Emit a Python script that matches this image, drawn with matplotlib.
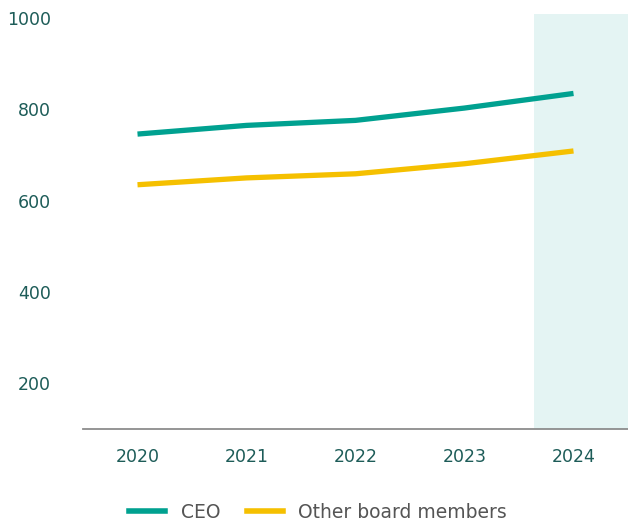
import matplotlib
matplotlib.use("Agg")
import matplotlib.pyplot as plt
from matplotlib.lines import Line2D

years = [2020, 2021, 2022, 2023, 2024]
ceo = [746, 765, 776, 803, 835]
other = [635, 650, 659, 681, 709]
yticks = [200, 400, 600, 800, 1000]
series_names = ["CEO", "Other board members"]

plt.rcParams['font.family'] = ['DejaVu Sans']
tick_color = '#1d5c58'
teal = '#00a190'
yellow = '#f5c000'

fig = plt.figure(figsize=(6.28, 5.21), dpi=100)
ax = fig.add_axes([83/628, 1-429/521, 1-83/628, (429-14)/521])

ax.axvspan(2023.64, 2024.5, color='#e4f4f3', zorder=0, lw=0)
ax.plot(years, ceo, color=teal, lw=3.8, solid_capstyle='butt', zorder=3)
ax.plot(years, other, color=yellow, lw=3.8, solid_capstyle='butt', zorder=3)

ax.set_xlim(2019.5, 2024.5)
ax.set_ylim(100, 1009)
ax.set_xticks(years)
ax.set_xticklabels([str(y) for y in years])
ax.set_yticks(yticks)
ax.set_yticklabels([str(v) for v in yticks])
ax.tick_params(axis='both', length=0, labelsize=12.5, colors=tick_color)
ax.tick_params(axis='y', pad=23)
ax.tick_params(axis='x', pad=14)
for s in ['top', 'right', 'left']:
    ax.spines[s].set_visible(False)
ax.spines['bottom'].set_color('#8c8c8c')
ax.spines['bottom'].set_linewidth(1.3)

handles = [Line2D([], [], color=teal, lw=4), Line2D([], [], color=yellow, lw=4)]
leg = fig.legend(handles, series_names, loc='center', bbox_to_anchor=(318/628, 1-512/521),
                 ncol=2, frameon=False, fontsize=13.5, handlelength=1.92,
                 columnspacing=1.4, handletextpad=0.85)
for t in leg.get_texts():
    t.set_color('#555555')

fig.savefig('out.png', dpi=100)
